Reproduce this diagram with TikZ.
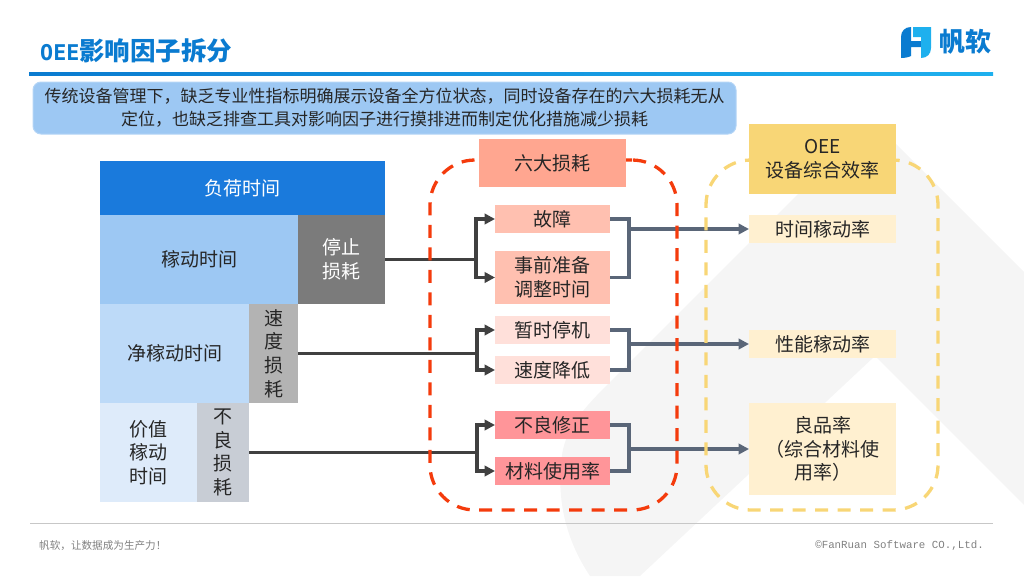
\documentclass[tikz,border=0pt]{standalone}
\usepackage{fontspec}
\usepackage{xcolor}
\setmainfont{Noto Sans CJK SC}
\newfontfamily\titlelatin{DejaVu Sans Mono}
\newfontfamily\footlatin{Liberation Mono}
\usetikzlibrary{positioning,arrows.meta}
\definecolor{inkdark}{HTML}{262626}
\definecolor{brandblue}{HTML}{0A7BD0}
\definecolor{brandsky}{HTML}{1EB0EE}
\definecolor{splitline}{HTML}{404040}
\definecolor{mergeline}{HTML}{5A6678}
\definecolor{lossred}{HTML}{F43B0C}
\definecolor{oeeyellow}{HTML}{F8D676}
\definecolor{oeepale}{HTML}{FFF0D0}
\definecolor{introfill}{HTML}{9DC8F3}
\definecolor{introedge}{HTML}{B4D5F6}
\definecolor{loadblue}{HTML}{1A7ADC}
\definecolor{stopgray}{HTML}{7B7B7B}
\definecolor{netblue}{HTML}{BDDAF8}
\definecolor{speedgray}{HTML}{B3B3B3}
\definecolor{valueblue}{HTML}{DEEBFA}
\definecolor{badgray}{HTML}{C8CDD5}
\definecolor{headred}{HTML}{FFA690}
\definecolor{lossone}{HTML}{FFC0B0}
\definecolor{losstwo}{HTML}{FFE0DA}
\definecolor{lossthree}{HTML}{FF9599}
\begin{document}
\begin{tikzpicture}[
        x=1pt, y=-1pt,
        box/.style={inner sep=0pt, outer sep=0pt, align=center, text=inkdark, font=\fontsize{19}{23.7}\selectfont},
        timebox/.style={box, anchor=north west},
        lossbox/.style={box, minimum width=115pt},
        ratebox/.style={box, minimum width=147pt, fill=oeepale},
        loop/.style={draw, line width=3.3pt, rounded corners=45pt, dash pattern=on 13pt off 9.5pt, inner sep=0pt, outer sep=0pt},
        split/.style={draw=splitline, line width=3.3pt},
        merge/.style={draw=mergeline, line width=3.3pt},
        splittip/.style={split, -{Triangle[length=10.5pt,width=10.5pt]}},
        mergetip/.style={merge, -{Triangle[length=10.5pt,width=10.5pt]}},
        label/.style={inner sep=0pt, anchor=west}
    ]
        \useasboundingbox (0,0) rectangle (1024,576);

        \fill[black!4] (878,126) -- (1024,272) -- (1024,505) -- (875,356) -- (640,576) -- (590,576)
            .. controls (566,540) and (556,500) .. (562,455) .. controls (566,425) and (590,402) .. (613,379) -- (866,126) -- cycle;

        \node[label, text=brandblue, font=\fontsize{25.5}{30}\selectfont\bfseries] (title) at (40,51) {{\titlelatin\fontsize{21.7}{30}\selectfont OEE}影响因子拆分};
        \shade[left color=brandblue, right color=brandsky] (29,72) rectangle (993,75);

        \fill[brandblue] (901,37) .. controls (901,31) and (905,27) .. (911,27) -- (911,41) -- (921,41) -- (921,47) -- (911,47) -- (911,56) .. controls (908,57.5) and (904,58) .. (901,58) -- cycle;
        \fill[brandsky] (913,27) -- (931,27) -- (931,48) .. controls (931,54) and (927,58) .. (921,58) -- (921,37) -- (913,37) -- cycle;
        \node[label, text=brandblue, font=\fontsize{26}{30}\selectfont\bfseries] (brand) at (939,42) {帆软};

        \node[draw=introedge, fill=introfill, rounded corners=8pt, line width=1pt, minimum width=703pt, minimum height=52pt, inner sep=0pt, align=center, text=inkdark, font=\fontsize{17}{23}\selectfont] (intro) at (384.5,108) {传统设备管理下，缺乏专业性指标明确展示设备全方位状态，同时设备存在的六大损耗无从\\定位，也缺乏排查工具对影响因子进行摸排进而制定优化措施减少损耗};

        \node[timebox, fill=loadblue, minimum width=285pt, minimum height=54pt, text=white] (load) at (100,161) {负荷时间};
        \node[timebox, fill=introfill, minimum width=198pt, minimum height=89pt, below=0pt of load.south west, anchor=north west] (run) {稼动时间};
        \node[timebox, fill=stopgray, minimum width=87pt, minimum height=89pt, right=0pt of run.north east, anchor=north west, text=white] (stoploss) {停止\\损耗};
        \node[timebox, fill=netblue, minimum width=149pt, minimum height=99pt, below=0pt of run.south west, anchor=north west] (net) {净稼动时间};
        \node[timebox, fill=speedgray, minimum width=49pt, minimum height=99pt, right=0pt of net.north east, anchor=north west] (speedloss) {速\\度\\损\\耗};
        \node[timebox, fill=valueblue, minimum width=97pt, minimum height=99pt, below=0pt of net.south west, anchor=north west] (value) {价值\\稼动\\时间};
        \node[timebox, fill=badgray, minimum width=52pt, minimum height=99pt, right=0pt of value.north east, anchor=north west] (badloss) {不\\良\\损\\耗};

        \node[lossbox, fill=lossone, minimum height=28pt] (fault) at (552.5,219) {故障};
        \node[lossbox, fill=lossone, minimum height=53pt] (prep) at (552.5,277.5) {事前准备\\调整时间};
        \node[lossbox, fill=losstwo, minimum height=28pt] (pause) at (552.5,330) {暂时停机};
        \node[lossbox, fill=losstwo, minimum height=28pt] (slow) at (552.5,370) {速度降低};
        \node[lossbox, fill=lossthree, minimum height=28pt] (defect) at (552.5,425) {不良修正};
        \node[lossbox, fill=lossthree, minimum height=28pt] (material) at (552.5,471) {材料使用率};

        \node[ratebox, minimum height=28pt] (timerate) at (822.5,229) {时间稼动率};
        \node[ratebox, minimum height=28pt] (perfrate) at (822.5,344) {性能稼动率};
        \node[ratebox, minimum height=92pt] (goodrate) at (822.5,449) {良品率\\（综合材料使\\用率）};

        \coordinate (splitA) at (476,259.5);
        \coordinate (splitB) at (477,353.5);
        \coordinate (splitC) at (477,452.5);
        \coordinate (mergeA) at (629,229);
        \coordinate (mergeB) at (629,344);
        \coordinate (mergeC) at (629,449);

        \draw[split] (stoploss.east) -- (splitA);
        \draw[splittip] (splitA) |- (fault.west);
        \draw[splittip] (splitA) |- (prep.west);
        \draw[split] (speedloss.east) -- (splitB);
        \draw[splittip] (splitB) |- (pause.west);
        \draw[splittip] (splitB) |- (slow.west);
        \draw[split] (badloss.east) -- (splitC);
        \draw[splittip] (splitC) |- (defect.west);
        \draw[splittip] (splitC) |- (material.west);

        \draw[merge] (fault.east) -| (mergeA);
        \draw[merge] (prep.east) -| (mergeA);
        \draw[mergetip] (mergeA) -- (timerate.west);
        \draw[merge] (pause.east) -| (mergeB);
        \draw[merge] (slow.east) -| (mergeB);
        \draw[mergetip] (mergeB) -- (perfrate.west);
        \draw[merge] (defect.east) -| (mergeC);
        \draw[merge] (material.east) -| (mergeC);
        \draw[mergetip] (mergeC) -- (goodrate.west);

        \node[loop, draw=lossred, minimum width=247pt, minimum height=350pt] (lossloop) at (553.5,335) {};
        \node[loop, draw=oeeyellow, minimum width=232pt, minimum height=350pt] (oeeloop) at (822,335) {};

        \node[box, fill=headred, minimum width=147pt, minimum height=48pt] (losshead) at (552.5,163) {六大损耗};
        \node[box, fill=oeeyellow, minimum width=147pt, minimum height=70pt] (oeehead) at (822.5,159) {OEE\\设备综合效率};

        \draw[black!22, line width=1pt] (30,523) -- (993,523);
        \node[label, text=black!50, font=\fontsize{10.6}{12}\selectfont] (slogan) at (39,546) {帆软，让数据成为生产力！};
        \node[inner sep=0pt, anchor=east, text=black!50, font=\footlatin\fontsize{10.8}{12}\selectfont] (copyright) at (984,546) {©FanRuan Software CO.,Ltd.};
    \end{tikzpicture}
\end{document}
